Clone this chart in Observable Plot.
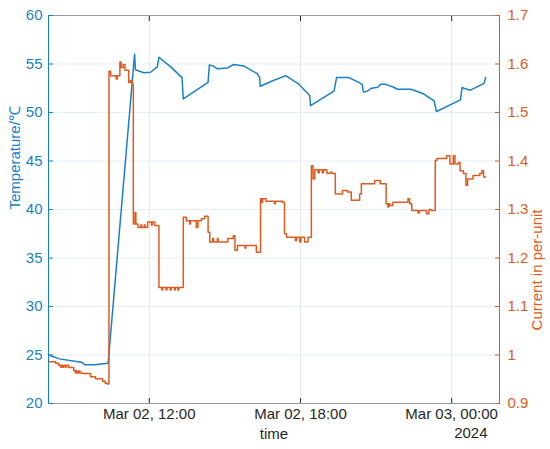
<!DOCTYPE html>
<html>
<head>
<meta charset="utf-8">
<script src="https://cdn.jsdelivr.net/npm/d3@7"></script>
<script src="https://cdn.jsdelivr.net/npm/@observablehq/plot@0.6"></script>
<style>
  html, body { margin: 0; padding: 0; background: #fff; }
</style>
</head>
<body>
<div id="chart"></div>
<script>
// Temperature series (°C), times on Mar 02 (>= 08:00) or Mar 03 (< 08:00), 2024
const tempTimes = ["08:00","08:26","09:02","09:19","09:26","09:50","10:22","11:25","11:27","11:47","12:03","12:19","12:23","12:51","13:18","13:21","14:20","14:23","14:32","14:42","15:06","15:21","15:45","16:17","16:23","16:24","16:50","17:25","17:55","18:22","18:24","19:20","19:26","19:55","20:19","20:27","20:30","20:39","20:49","21:04","21:11","21:23","21:42","21:51","22:22","22:30","22:54","23:18","23:24","00:21","00:25","00:29","00:45","01:17","01:21"];
const tempValues = [25.0,24.6,24.36,24.26,24.0,24.0,24.15,56.0,54.4,54.1,54.15,54.7,55.7,54.7,53.6,51.4,53.1,54.9,54.8,54.5,54.6,54.95,54.8,54.0,53.6,52.7,53.2,53.8,52.96,51.75,50.7,52.2,53.6,53.6,53.1,52.9,52.1,52.2,52.5,52.6,52.9,52.9,52.6,52.4,52.4,52.3,51.9,51.2,50.1,51.3,52.6,52.5,52.3,53.0,53.6];

// Current series (per-unit), step changes
const currTimes = ["08:00","08:17","08:24","08:29","08:31","08:34","08:36","08:40","08:42","08:48","09:00","09:04","09:06","09:09","09:12","09:15","09:21","09:40","09:52","10:09","10:15","10:20","10:24","10:28","10:41","10:44","10:50","10:53","10:58","11:02","11:11","11:15","11:19","11:22","11:26","11:28","11:33","11:40","11:42","11:48","11:50","11:56","12:05","12:07","12:13","12:23","12:30","12:32","12:40","12:42","12:50","12:52","13:00","13:02","13:08","13:10","13:21","13:28","13:36","13:38","13:52","13:56","14:04","14:12","14:20","14:24","14:31","14:33","14:42","14:44","15:07","15:20","15:24","15:30","15:48","15:50","16:15","16:25","16:28","16:30","16:38","16:58","17:00","17:17","17:22","17:27","17:48","17:51","17:58","18:01","18:10","18:18","18:26","18:30","18:34","18:42","18:45","18:52","18:55","19:03","19:10","19:15","19:23","19:40","19:52","20:01","20:21","20:25","20:57","21:10","21:24","21:28","21:30","21:33","21:40","22:16","22:20","22:25","22:40","22:43","23:00","23:06","23:12","23:21","23:25","23:48","23:56","00:04","00:08","00:16","00:20","00:28","00:34","00:38","00:51","01:07","01:12","01:16","01:21"];
const currValues = [0.986,0.983,0.979,0.975,0.979,0.975,0.979,0.975,0.979,0.974,0.968,0.963,0.967,0.963,0.967,0.963,0.962,0.955,0.951,0.946,0.942,0.940,1.585,1.576,1.569,1.576,1.604,1.593,1.599,1.587,1.562,1.566,1.558,1.270,1.294,1.270,1.263,1.268,1.263,1.268,1.263,1.274,1.268,1.274,1.267,1.139,1.134,1.139,1.134,1.139,1.134,1.139,1.134,1.139,1.134,1.139,1.284,1.277,1.270,1.277,1.263,1.277,1.281,1.286,1.253,1.233,1.240,1.233,1.240,1.233,1.240,1.246,1.216,1.226,1.220,1.226,1.212,1.322,1.315,1.322,1.317,1.312,1.317,1.315,1.250,1.243,1.236,1.243,1.233,1.243,1.233,1.243,1.390,1.363,1.382,1.376,1.382,1.376,1.382,1.374,1.377,1.374,1.332,1.339,1.336,1.319,1.332,1.353,1.360,1.353,1.312,1.305,1.312,1.308,1.315,1.322,1.312,1.298,1.293,1.298,1.291,1.300,1.298,1.401,1.405,1.411,1.394,1.411,1.394,1.397,1.380,1.374,1.350,1.363,1.370,1.374,1.380,1.367,1.367];

const tempTicks = [20,25,30,35,40,45,50,55,60];
const currTicks = [0.9,1.0,1.1,1.2,1.3,1.4,1.5,1.6,1.7];
const xTickTimes = ["12:00","18:00","00:00"];
const xTickLabels = ["Mar 02, 12:00","Mar 02, 18:00","Mar 03, 00:00"];
const xDomainTimes = ["08:00","01:54"];

const blue = "#1a7fc9", orange = "#de5b20";

function toDate(hm) {
  const [h, m] = hm.split(":").map(Number);
  const day = h < 8 ? 3 : 2;
  return new Date(Date.UTC(2024, 2, day, h, m));
}
// map current (p.u.) onto the temperature scale: 0.9 -> 20, 1.7 -> 60
const toTemp = c => 20 + (c - 0.9) * 50;
const toCurr = t => 0.9 + (t - 20) / 50;

const tempData = tempTimes.map((t, i) => ({time: toDate(t), value: tempValues[i]}));
const currData = currTimes.map((t, i) => ({time: toDate(t), value: currValues[i]}));
const xTicks = xTickTimes.map(toDate);
const xDomain = xDomainTimes.map(toDate);
const rightTicks = currTicks.map(toTemp);

const chart = Plot.plot({
  width: 550,
  height: 449,
  marginLeft: 48,
  marginRight: 51,
  marginTop: 15,
  marginBottom: 46,
  style: {fontFamily: "'Liberation Sans', Arial, Helvetica, sans-serif", fontSize: "15px", background: "#fff", overflow: "visible"},
  x: {type: "time", domain: xDomain},
  y: {domain: [20, 60]},
  marks: [
    Plot.gridY(tempTicks, {stroke: "#e3eef9", strokeOpacity: 1}),
    Plot.gridX(xTicks, {stroke: "#e6e6e6", strokeOpacity: 1}),
    Plot.line(tempData, {x: "time", y: "value", stroke: blue, strokeWidth: 1.5}),
    Plot.line(currData, {x: "time", y: d => toTemp(d.value), curve: "step-after", stroke: orange, strokeWidth: 1.5}),
    // box
    Plot.ruleY([60], {stroke: "#999", strokeWidth: 1}),
    Plot.ruleY([20], {stroke: "#999", strokeWidth: 1}),
    Plot.ruleX([xDomain[0]], {stroke: blue, strokeWidth: 1}),
    Plot.ruleX([xDomain[1]], {stroke: orange, strokeWidth: 1}),
    // axes
    Plot.axisY(tempTicks, {anchor: "left", color: blue, tickSize: -5, tickPadding: 11, label: null, fontSize: 15}),
    Plot.axisY(rightTicks, {anchor: "right", color: orange, tickSize: -5, tickPadding: 13, label: null, fontSize: 15,
      tickFormat: d => String(Math.round(toCurr(d) * 10) / 10)}),
    Plot.axisX(xTicks, {anchor: "bottom", color: "#262626", tickSize: -5, tickPadding: 10, label: null, fontSize: 15,
      tickFormat: (d, i) => xTickLabels[i]}),
    Plot.axisX(xTicks, {anchor: "top", color: "#262626", tickSize: -5, tickPadding: 0, label: null, tickFormat: () => ""}),
    // labels
    Plot.text(["Temperature/℃"], {frameAnchor: "left", rotate: -90, dx: -33, fill: blue, fontSize: 15}),
    Plot.text(["Current in per-unit"], {frameAnchor: "right", rotate: -90, dx: 38, fill: orange, fontSize: 15}),
    Plot.text(["time"], {frameAnchor: "bottom", dy: 35, fill: "#262626", fontSize: 15}),
    Plot.text(["2024"], {frameAnchor: "bottom-right", textAnchor: "end", dx: -12, dy: 34, fill: "#262626", fontSize: 15})
  ]
});
document.getElementById("chart").appendChild(chart);
</script>
</body>
</html>
